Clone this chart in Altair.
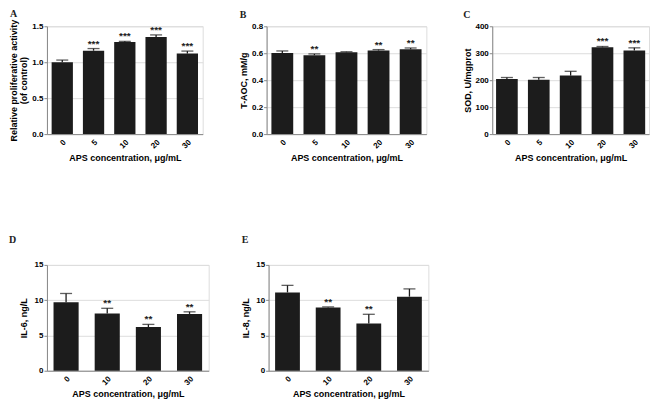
import altair as alt
import pandas as pd

FONT = "Liberation Sans, Arial, Helvetica, sans-serif"
SERIF = "Liberation Serif, Times New Roman, serif"
INK = "#1c1c1c"

conc5 = ["0", "5", "10", "20", "30"]
conc4 = ["0", "10", "20", "30"]

a_mean = [1.00, 1.16, 1.28, 1.35, 1.12]
a_err = [0.03, 0.03, 0.01, 0.03, 0.035]
a_sig = ["", "***", "***", "***", "***"]

b_mean = [0.602, 0.585, 0.607, 0.620, 0.629]
b_err = [0.015, 0.010, 0.004, 0.007, 0.010]
b_sig = ["", "**", "", "**", "**"]

c_mean = [204, 202, 217, 322, 310]
c_err = [6, 8, 16, 3, 10]
c_sig = ["", "", "", "***", "***"]

d_mean = [9.7, 8.1, 6.2, 8.05]
d_err = [1.25, 0.75, 0.37, 0.3]
d_sig = ["", "**", "**", "**"]

e_mean = [11.1, 8.95, 6.7, 10.5]
e_err = [1.0, 0.1, 1.3, 1.1]
e_sig = ["", "**", "**", ""]

XTITLE = "APS concentration, \u03bcg/mL"


def panel(letter, cats, mean, err, sig, ytitle, ymax, yticks, yfmt,
          width, height, ext, pin, pout, toff, tdx):
    df = pd.DataFrame({"conc": cats, "mean": mean, "err": err, "sig": sig})
    df["top"] = df["mean"] + df["err"]
    x = alt.X("conc:N", sort=cats, title=XTITLE,
              scale=alt.Scale(paddingInner=pin, paddingOuter=pout),
              axis=alt.Axis(labelAngle=-45, ticks=False, labelPadding=4, titlePadding=3,
                            labelFont=FONT, titleFont=FONT, labelFontSize=8,
                            titleFontSize=9, labelFontWeight="bold",
                            titleFontWeight="bold"))
    yscale = alt.Scale(domain=[0, ymax], nice=False)
    yaxis = alt.Axis(values=yticks, format=yfmt, minExtent=ext, maxExtent=ext,
                     tickSize=3, labelPadding=1, titlePadding=2,
                     labelFont=FONT, titleFont=FONT, labelFontSize=8,
                     titleFontSize=9, labelFontWeight="bold",
                     titleFontWeight="bold", titleLineHeight=10)
    base = alt.Chart(df)
    bars = base.mark_bar(color=INK).encode(
        x=x, y=alt.Y("mean:Q", title=ytitle, scale=yscale, axis=yaxis))
    rule = base.mark_rule(color=INK, strokeWidth=1.3).encode(
        x=x, y=alt.Y("mean:Q", title=ytitle, scale=yscale, axis=yaxis), y2="top:Q")
    cap = base.mark_tick(color=INK, size=12, thickness=1.3).encode(
        x=x, y=alt.Y("top:Q", title=ytitle, scale=yscale, axis=yaxis))
    stars = base.mark_text(baseline="bottom", dy=0, fontSize=10, font=FONT,
                           fontWeight="bold", color="#222").encode(
        x=x, y=alt.Y("top:Q", title=ytitle, scale=yscale, axis=yaxis), text="sig:N")
    return alt.layer(bars, rule, cap, stars).properties(
        width=width, height=height,
        title=alt.TitleParams(letter, anchor="start", frame="bounds",
                              font=SERIF, fontSize=10, dx=tdx,
                              fontWeight="bold", offset=toff, color="#222"))


pA = panel("A", conc5, a_mean, a_err, a_sig,
           ["Relative proliferative activity", "(of control)"], 1.5,
           [0, 0.5, 1.0, 1.5], ".1f", 156, 108, 16, 0.32, 0.15, 0, 0)
pB = panel("B", conc5, b_mean, b_err, b_sig, "T-AOC, mM/g", 0.8,
           [0, 0.2, 0.4, 0.6, 0.8], ".1f", 160, 108, 16, 0.32, 0.15, 2, 0)
pC = panel("C", conc5, c_mean, c_err, c_sig, "SOD, U/mgprot", 400,
           [0, 100, 200, 300, 400], "d", 157, 108, 18, 0.32, 0.12, 2, 0)
pD = panel("D", conc4, d_mean, d_err, d_sig, "IL-6, ng/L", 15,
           [0, 5, 10, 15], "d", 162, 106, 16, 0.39, 0.16, 16, -11)
pE = panel("E", conc4, e_mean, e_err, e_sig, "IL-8, ng/L", 15,
           [0, 5, 10, 15], "d", 160, 106, 16, 0.39, 0.16, 16, 0)

top = alt.hconcat(pA, pB, pC, spacing=35)
bottom = alt.hconcat(pD, pE, spacing=31)

chart = alt.vconcat(top, bottom, spacing=71).properties(padding=0).configure_view(
    stroke=None
).configure_axis(
    grid=False, domainColor="#111", tickColor="#111", labelColor="#222",
    titleColor="#222", domainWidth=1.2
).configure(background="white")

chart.save("out.html", embed_options={"renderer": "svg", "actions": False})
